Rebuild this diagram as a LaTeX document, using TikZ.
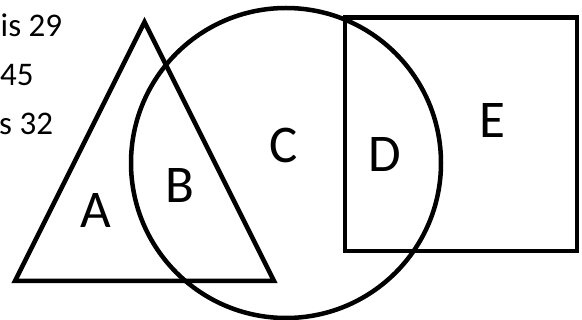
\documentclass[tikz,border=0pt]{standalone}
\usepackage{fontspec}
\setmainfont{Carlito}
\begin{document}
\begin{tikzpicture}[x=1pt,y=-1pt,
  shape line/.style={line width=4.5pt,line join=miter},
  big label/.style={font=\fontsize{53}{53}\selectfont,inner sep=0pt,anchor=base},
  small text/.style={font=\fontsize{33}{33}\selectfont,inner sep=0pt,anchor=base west}]
\useasboundingbox (0,0) rectangle (582,320);
\clip (0,0) rectangle (582,320);
% triangle
\draw[shape line] (144.5,22) -- (15,281) -- (274,281) -- cycle;
% circle
\draw[shape line] (286,163) circle (155);
% rectangle
\draw[shape line] (345,17.5) rectangle (577,251);
% labels
\node[big label] (la) at (95.5,228) {A};
\node[big label] (lb) at (180,203) {B};
\node[big label] (lc) at (284,163) {C};
\node[big label] (ld) at (385,172) {D};
\node[big label] (le) at (492,138) {E};
% partial texts
\node[small text] (t1) at (0.5,37) {is 29};
\node[small text] (t2) at (0,86) {45};
\node[small text] (t3) at (-1,135) {s 32};
\end{tikzpicture}
\end{document}
